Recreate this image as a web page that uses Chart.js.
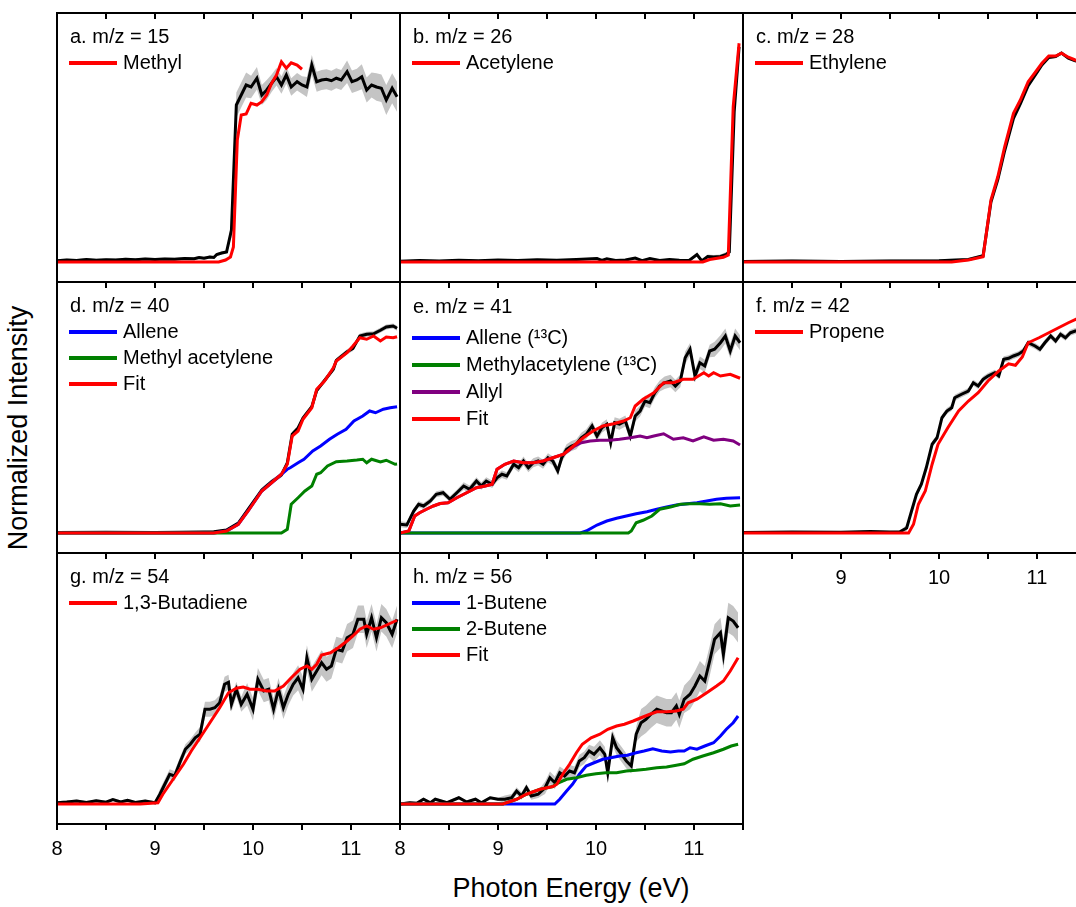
<!DOCTYPE html>
<html>
<head>
<meta charset="utf-8">
<script src="https://cdn.jsdelivr.net/npm/chart.js@4.4.1/dist/chart.umd.min.js"></script>
<style>
html, body { margin: 0; padding: 0; background: #fff; overflow: hidden; }
#fig { position: relative; width: 1076px; height: 907px; overflow: hidden; font-family: "Liberation Sans", Arial, sans-serif; }
#fig canvas { position: absolute; }
.axis-title { position: absolute; font-size: 27px; color: #000; white-space: nowrap; }
#ytitle { left: 18px; top: 428px; transform: translate(-50%, -50%) rotate(-90deg); }
#xtitle { left: 571px; top: 888px; transform: translate(-50%, -50%); }
</style>
</head>
<body>
<div id="fig">
  <div class="axis-title" id="ytitle">Normalized Intensity</div>
  <div class="axis-title" id="xtitle">Photon Energy (eV)</div>
</div>
<script>
// a. m/z = 15
const aX = [8.0,8.1,8.2,8.3,8.4,8.5,8.6,8.7,8.8,8.9,9.0,9.1,9.2,9.3,9.4,9.45,9.5,9.56,9.6,9.63,9.68,9.73,9.78,9.83,9.88,9.93,9.98,10.04,10.09,10.14,10.19,10.24,10.29,10.34,10.39,10.45,10.5,10.55,10.6,10.65,10.7,10.75,10.8,10.85,10.9,10.96,11.01,11.06,11.11,11.16,11.21,11.26,11.31,11.36,11.42,11.47];
const aSignal = [0.005,0.008,0.006,0.01,0.007,0.009,0.008,0.011,0.009,0.012,0.01,0.012,0.011,0.014,0.013,0.018,0.015,0.02,0.018,0.03,0.036,0.04,0.128,0.628,0.668,0.708,0.70,0.735,0.668,0.688,0.715,0.741,0.708,0.748,0.70,0.721,0.708,0.70,0.788,0.721,0.728,0.731,0.725,0.735,0.728,0.761,0.721,0.728,0.741,0.688,0.708,0.70,0.695,0.648,0.695,0.661];
const aErr = [0.006,0.006,0.006,0.006,0.006,0.006,0.006,0.006,0.006,0.006,0.006,0.006,0.006,0.006,0.006,0.006,0.006,0.006,0.006,0.006,0.006,0.006,0.03,0.05,0.05,0.05,0.045,0.045,0.04,0.04,0.035,0.035,0.035,0.035,0.035,0.035,0.035,0.04,0.04,0.04,0.04,0.04,0.04,0.04,0.04,0.045,0.045,0.045,0.05,0.05,0.05,0.055,0.055,0.06,0.06,0.06];
const aFitX = [8.0,9.0,9.65,9.72,9.77,9.8,9.84,9.88,9.93,9.98,10.04,10.09,10.14,10.19,10.24,10.29,10.34,10.39,10.45,10.5];
const aMethyl = [0,0,0,0.008,0.02,0.06,0.488,0.588,0.592,0.635,0.628,0.641,0.668,0.715,0.748,0.801,0.775,0.797,0.788,0.771];

// b. m/z = 26
const bX = [8.0,8.2,8.4,8.6,8.8,9.0,9.2,9.4,9.6,9.8,10.01,10.06,10.11,10.2,10.3,10.4,10.47,10.55,10.65,10.75,10.85,10.95,11.03,11.08,11.14,11.2,11.27,11.33,11.36,11.41,11.46];
const bSignal = [0.003,0.006,0.004,0.007,0.005,0.008,0.006,0.009,0.007,0.01,0.014,0.006,0.013,0.006,0.008,0.016,0.005,0.014,0.006,0.01,0.007,0.006,0.03,0.004,0.022,0.02,0.022,0.03,0.04,0.6,0.86];
const bErr = [0.004,0.004,0.004,0.004,0.004,0.004,0.004,0.004,0.004,0.004,0.004,0.004,0.004,0.004,0.004,0.004,0.004,0.004,0.004,0.004,0.004,0.004,0.008,0.008,0.008,0.008,0.008,0.01,0.012,0.02,0.02];
const bFitX = [8.0,11.09,11.16,11.3,11.35,11.4,11.46];
const bAcetylene = [0,0,0.01,0.019,0.028,0.621,0.875];

// c. m/z = 28
const cX = [8.0,8.5,9.0,9.5,10.0,10.3,10.45,10.53,10.6,10.67,10.76,10.83,10.91,11.0,11.05,11.12,11.19,11.25,11.32,11.39,11.47];
const cSignal = [0.002,0.004,0.002,0.004,0.005,0.01,0.025,0.24,0.33,0.445,0.575,0.632,0.705,0.758,0.788,0.818,0.822,0.836,0.815,0.805,0.80];
const cErr = [0.006,0.006,0.006,0.006,0.006,0.006,0.006,0.006,0.006,0.006,0.006,0.006,0.006,0.006,0.006,0.006,0.006,0.006,0.006,0.006,0.006];
const cFitX = [8.0,9.5,10.13,10.3,10.45,10.53,10.6,10.67,10.76,10.83,10.91,11.0,11.05,11.12,11.19,11.25,11.32,11.39,11.47];
const cEthylene = [0,0,0,0.008,0.021,0.248,0.341,0.461,0.595,0.648,0.721,0.768,0.795,0.824,0.824,0.835,0.819,0.808,0.80];

// d. m/z = 40
const dX = [8.0,8.5,9.0,9.5,9.6,9.73,9.85,9.95,10.09,10.19,10.29,10.35,10.4,10.46,10.51,10.6,10.65,10.73,10.82,10.85,10.96,11.02,11.09,11.16,11.23,11.3,11.36,11.43,11.47];
const dSignal = [0.002,0.003,0.002,0.004,0.005,0.012,0.04,0.095,0.172,0.205,0.232,0.28,0.395,0.42,0.46,0.505,0.57,0.61,0.655,0.69,0.725,0.738,0.788,0.795,0.797,0.811,0.824,0.828,0.819];
const dErr = [0.005,0.005,0.005,0.005,0.005,0.005,0.005,0.01,0.01,0.01,0.01,0.01,0.01,0.01,0.01,0.01,0.01,0.01,0.01,0.01,0.01,0.01,0.01,0.01,0.01,0.01,0.01,0.01,0.01];
const dFitX = [8.0,9.6,9.73,9.85,9.95,10.09,10.19,10.29,10.35,10.4,10.46,10.51,10.6,10.65,10.73,10.82,10.85,10.96,11.02,11.09,11.16,11.23,11.3,11.36,11.43,11.47];
const dFit = [0,0,0.008,0.035,0.088,0.168,0.201,0.235,0.275,0.388,0.408,0.455,0.501,0.575,0.608,0.661,0.688,0.721,0.748,0.781,0.775,0.788,0.768,0.784,0.781,0.785];
const dAlleneX = [8.0,9.6,9.73,9.85,9.95,10.09,10.19,10.29,10.35,10.38,10.46,10.52,10.61,10.69,10.78,10.86,10.95,11.03,11.12,11.19,11.25,11.33,11.4,11.47];
const dAllene = [0,0,0.008,0.035,0.088,0.168,0.201,0.235,0.255,0.261,0.281,0.295,0.328,0.348,0.375,0.395,0.415,0.448,0.468,0.488,0.481,0.495,0.501,0.505];
const dMethylAcX = [8.0,10.29,10.35,10.39,10.46,10.53,10.6,10.65,10.69,10.76,10.85,10.96,11.06,11.12,11.16,11.21,11.3,11.36,11.45,11.47];
const dMethylAc = [0,0,0.015,0.115,0.141,0.168,0.188,0.235,0.241,0.268,0.285,0.288,0.292,0.295,0.281,0.295,0.284,0.291,0.275,0.276];

// e. m/z = 41
const eX = [8.0,8.07,8.14,8.19,8.24,8.31,8.37,8.44,8.51,8.58,8.65,8.71,8.78,8.83,8.88,8.94,8.99,9.04,9.09,9.16,9.21,9.26,9.31,9.36,9.41,9.46,9.51,9.56,9.61,9.65,9.7,9.75,9.8,9.85,9.9,9.96,10.01,10.06,10.11,10.15,10.19,10.24,10.3,10.35,10.4,10.45,10.5,10.55,10.6,10.65,10.7,10.76,10.81,10.86,10.91,10.96,11.01,11.06,11.11,11.16,11.21,11.27,11.32,11.37,11.42,11.47];
const eSignal = [0.035,0.032,0.088,0.115,0.108,0.128,0.155,0.161,0.135,0.161,0.188,0.175,0.208,0.188,0.208,0.195,0.221,0.235,0.228,0.275,0.261,0.288,0.261,0.281,0.288,0.275,0.301,0.288,0.248,0.301,0.335,0.348,0.355,0.381,0.395,0.428,0.388,0.421,0.435,0.361,0.441,0.435,0.448,0.388,0.468,0.488,0.528,0.521,0.561,0.588,0.601,0.608,0.588,0.608,0.701,0.735,0.628,0.681,0.668,0.728,0.735,0.761,0.788,0.728,0.788,0.761];
const eErr = [0.012,0.012,0.012,0.012,0.012,0.012,0.012,0.012,0.012,0.012,0.015,0.015,0.015,0.015,0.015,0.015,0.015,0.015,0.015,0.015,0.018,0.018,0.018,0.018,0.018,0.018,0.018,0.018,0.018,0.018,0.02,0.02,0.02,0.02,0.02,0.02,0.02,0.02,0.02,0.02,0.022,0.022,0.022,0.022,0.022,0.022,0.022,0.022,0.022,0.022,0.025,0.025,0.025,0.025,0.025,0.025,0.025,0.025,0.025,0.025,0.03,0.03,0.03,0.03,0.03,0.03];
const eFitX = [8.0,8.09,8.15,8.2,8.27,8.34,8.41,8.49,8.58,8.68,8.78,8.87,8.94,8.99,9.07,9.16,9.26,9.36,9.46,9.56,9.67,9.77,9.87,9.97,10.07,10.18,10.28,10.35,10.4,10.48,10.59,10.69,10.79,10.89,10.99,11.1,11.15,11.2,11.27,11.37,11.47];
const eFit = [0,0.008,0.068,0.081,0.095,0.108,0.118,0.121,0.141,0.161,0.181,0.188,0.195,0.255,0.275,0.288,0.281,0.281,0.288,0.301,0.315,0.348,0.381,0.408,0.428,0.437,0.448,0.461,0.508,0.535,0.561,0.601,0.601,0.615,0.615,0.641,0.628,0.641,0.628,0.635,0.619];
const eAllylX = [8.0,8.09,8.15,8.2,8.27,8.34,8.41,8.49,8.58,8.68,8.78,8.87,8.94,8.99,9.07,9.16,9.26,9.36,9.46,9.56,9.67,9.77,9.85,9.94,10.04,10.14,10.24,10.35,10.45,10.52,10.59,10.69,10.79,10.89,10.99,11.1,11.2,11.3,11.4,11.47];
const eAllyl = [0,0.008,0.068,0.081,0.095,0.108,0.118,0.121,0.141,0.161,0.181,0.188,0.195,0.255,0.275,0.288,0.281,0.281,0.288,0.301,0.315,0.345,0.361,0.368,0.371,0.371,0.375,0.381,0.388,0.381,0.388,0.397,0.375,0.381,0.368,0.385,0.371,0.375,0.368,0.352];
const eAlleneX = [8.0,9.84,9.9,10.01,10.11,10.21,10.31,10.41,10.52,10.62,10.72,10.82,10.93,11.03,11.13,11.23,11.33,11.47];
const eAllene = [0,0,0.008,0.032,0.048,0.059,0.068,0.077,0.085,0.095,0.104,0.112,0.117,0.121,0.128,0.135,0.139,0.141];
const eMethylAcX = [8.0,10.33,10.36,10.41,10.48,10.57,10.65,10.76,10.86,10.96,11.06,11.16,11.27,11.37,11.47];
const eMethylAc = [0,0,0.008,0.041,0.051,0.068,0.095,0.104,0.115,0.117,0.117,0.115,0.117,0.108,0.112];

// f. m/z = 42
const fX = [8.0,8.5,9.0,9.3,9.5,9.6,9.67,9.72,9.77,9.82,9.87,9.93,9.98,10.03,10.08,10.13,10.16,10.23,10.3,10.35,10.4,10.45,10.5,10.57,10.61,10.66,10.71,10.76,10.81,10.86,10.91,10.98,11.03,11.08,11.14,11.19,11.24,11.29,11.34,11.39,11.45];
const fSignal = [0.002,0.004,0.003,0.006,0.004,0.005,0.02,0.088,0.155,0.195,0.261,0.355,0.381,0.461,0.488,0.501,0.541,0.555,0.568,0.601,0.588,0.615,0.628,0.641,0.628,0.695,0.699,0.708,0.715,0.728,0.761,0.748,0.735,0.761,0.788,0.768,0.795,0.781,0.801,0.808,0.81];
const fErr = [0.004,0.004,0.004,0.004,0.004,0.004,0.012,0.012,0.012,0.012,0.012,0.012,0.012,0.012,0.012,0.012,0.012,0.012,0.012,0.012,0.012,0.012,0.012,0.012,0.012,0.012,0.012,0.012,0.012,0.012,0.012,0.012,0.012,0.012,0.012,0.012,0.012,0.012,0.012,0.012,0.012];
const fFitX = [8.0,9.69,9.74,9.79,9.86,9.93,9.99,10.09,10.2,10.3,10.4,10.5,10.61,10.71,10.78,10.85,10.91,11.02,11.12,11.22,11.32,11.4,11.47];
const fPropene = [0,0,0.035,0.115,0.168,0.275,0.355,0.421,0.488,0.528,0.561,0.608,0.648,0.677,0.671,0.704,0.761,0.781,0.801,0.821,0.841,0.855,0.866];

// g. m/z = 54
const gX = [8.0,8.1,8.2,8.3,8.4,8.5,8.57,8.65,8.72,8.8,8.9,9.0,9.05,9.1,9.15,9.2,9.26,9.31,9.36,9.41,9.46,9.51,9.56,9.61,9.66,9.71,9.75,9.78,9.83,9.88,9.94,10.0,10.05,10.11,10.16,10.21,10.26,10.31,10.36,10.41,10.46,10.51,10.55,10.6,10.65,10.7,10.75,10.8,10.85,10.91,10.96,11.02,11.07,11.13,11.16,11.21,11.26,11.31,11.36,11.42,11.47];
const gSignal = [0.005,0.008,0.012,0.006,0.013,0.007,0.018,0.008,0.015,0.006,0.012,0.005,0.039,0.079,0.119,0.112,0.172,0.219,0.239,0.265,0.279,0.379,0.379,0.385,0.405,0.479,0.487,0.399,0.459,0.399,0.439,0.379,0.499,0.452,0.459,0.379,0.459,0.385,0.439,0.479,0.505,0.459,0.585,0.499,0.532,0.565,0.539,0.552,0.619,0.612,0.665,0.679,0.739,0.739,0.679,0.745,0.665,0.745,0.725,0.679,0.739];
const gErr = [0.006,0.006,0.006,0.006,0.006,0.006,0.006,0.006,0.006,0.006,0.006,0.006,0.02,0.02,0.02,0.02,0.02,0.02,0.02,0.02,0.03,0.03,0.03,0.03,0.03,0.03,0.03,0.03,0.03,0.03,0.045,0.045,0.045,0.045,0.045,0.045,0.045,0.045,0.045,0.045,0.05,0.05,0.05,0.05,0.05,0.05,0.05,0.05,0.05,0.05,0.055,0.055,0.055,0.055,0.055,0.055,0.055,0.055,0.055,0.055,0.055];
const gFitX = [8.0,8.85,9.03,9.08,9.15,9.22,9.29,9.37,9.46,9.56,9.66,9.75,9.83,9.9,9.97,10.05,10.14,10.22,10.31,10.39,10.48,10.55,10.6,10.65,10.7,10.79,10.87,10.96,11.02,11.09,11.16,11.23,11.3,11.38,11.47];
const gButadiene = [0,0,0.005,0.039,0.079,0.119,0.159,0.212,0.265,0.325,0.385,0.445,0.463,0.468,0.459,0.459,0.452,0.452,0.472,0.505,0.539,0.552,0.539,0.559,0.596,0.605,0.625,0.652,0.672,0.699,0.712,0.699,0.705,0.719,0.735];

// h. m/z = 56
const hX = [8.0,8.1,8.17,8.24,8.31,8.36,8.48,8.6,8.68,8.77,8.83,8.92,9.0,9.07,9.14,9.19,9.24,9.29,9.34,9.41,9.48,9.53,9.58,9.63,9.68,9.73,9.78,9.83,9.88,9.93,9.98,10.04,10.09,10.12,10.17,10.21,10.26,10.31,10.36,10.41,10.46,10.51,10.56,10.62,10.67,10.72,10.77,10.82,10.85,10.9,10.96,11.01,11.06,11.11,11.16,11.21,11.27,11.3,11.35,11.4,11.45];
const hSignal = [0,0.005,0.003,0.019,0.005,0.019,0.005,0.025,0.008,0.019,0.005,0.025,0.019,0.019,0.025,0.052,0.032,0.065,0.032,0.039,0.065,0.105,0.085,0.125,0.112,0.132,0.125,0.172,0.185,0.212,0.199,0.225,0.199,0.125,0.265,0.225,0.199,0.172,0.152,0.279,0.325,0.339,0.359,0.379,0.372,0.365,0.365,0.392,0.359,0.419,0.439,0.472,0.512,0.492,0.572,0.659,0.685,0.599,0.745,0.732,0.705];
const hErr = [0.006,0.006,0.006,0.006,0.006,0.006,0.006,0.006,0.006,0.006,0.006,0.006,0.006,0.015,0.015,0.015,0.015,0.015,0.015,0.015,0.025,0.025,0.025,0.025,0.025,0.025,0.025,0.025,0.025,0.025,0.03,0.03,0.03,0.03,0.03,0.03,0.03,0.03,0.03,0.03,0.055,0.055,0.055,0.055,0.055,0.055,0.055,0.055,0.055,0.055,0.06,0.06,0.06,0.06,0.06,0.06,0.06,0.06,0.06,0.06,0.06];
const hFitX = [8.0,9.05,9.19,9.29,9.43,9.56,9.6,9.67,9.73,9.8,9.86,9.95,10.04,10.12,10.21,10.29,10.38,10.46,10.55,10.62,10.72,10.82,10.89,10.94,11.03,11.13,11.23,11.3,11.37,11.45];
const hFit = [0,0,0.019,0.039,0.059,0.07,0.079,0.125,0.159,0.205,0.239,0.265,0.279,0.299,0.312,0.319,0.332,0.345,0.359,0.369,0.369,0.372,0.379,0.405,0.419,0.445,0.472,0.492,0.532,0.585];
const hButene1X = [8.0,9.58,9.63,9.7,9.76,9.83,9.9,9.98,10.07,10.15,10.24,10.32,10.41,10.49,10.58,10.67,10.76,10.84,10.9,10.96,11.03,11.11,11.2,11.27,11.33,11.4,11.45];
const hButene1 = [0,0,0.019,0.052,0.079,0.119,0.152,0.165,0.179,0.185,0.192,0.195,0.205,0.212,0.221,0.212,0.208,0.212,0.212,0.225,0.219,0.232,0.245,0.272,0.299,0.325,0.352];
const hButene2X = [8.0,9.05,9.19,9.29,9.43,9.56,9.6,9.7,9.8,9.9,10.0,10.1,10.21,10.31,10.41,10.51,10.62,10.72,10.82,10.9,10.99,11.09,11.2,11.3,11.38,11.45];
const hButene2 = [0,0,0.019,0.039,0.059,0.07,0.082,0.099,0.105,0.115,0.121,0.125,0.125,0.132,0.135,0.139,0.145,0.148,0.155,0.161,0.179,0.192,0.205,0.219,0.232,0.239];

const RED = '#ff0000', BLUE = '#0000ff', GREEN = '#008000', PURPLE = '#800080';
const FONT_FAMILY = '"Liberation Sans", Arial, sans-serif';

// grid of panels: column lefts, row tops/heights (pixels)
const colLeft = [57, 400, 743];
const rowTop = [13, 282, 553];
const rowH = [269, 271, 271];
const PANEL_W = 343;
const PAD = 14;
const AXIS_H = 45;

const panels = [
  { col: 0, row: 0, title: 'a. m/z = 15', x: aX, y: aSignal, err: aErr,
    lines: [{ label: 'Methyl', x: aFitX, y: aMethyl, color: RED }],
    legend: ['Methyl'], tickLabels: [] },
  { col: 1, row: 0, title: 'b. m/z = 26', x: bX, y: bSignal, err: bErr,
    lines: [{ label: 'Acetylene', x: bFitX, y: bAcetylene, color: RED }],
    legend: ['Acetylene'], tickLabels: [] },
  { col: 2, row: 0, title: 'c. m/z = 28', x: cX, y: cSignal, err: cErr,
    lines: [{ label: 'Ethylene', x: cFitX, y: cEthylene, color: RED }],
    legend: ['Ethylene'], tickLabels: [] },
  { col: 0, row: 1, title: 'd. m/z = 40', x: dX, y: dSignal, err: dErr,
    lines: [
      { label: 'Fit', x: dFitX, y: dFit, color: RED },
      { label: 'Methyl acetylene', x: dMethylAcX, y: dMethylAc, color: GREEN },
      { label: 'Allene', x: dAlleneX, y: dAllene, color: BLUE }
    ],
    legend: ['Allene', 'Methyl acetylene', 'Fit'], tickLabels: [] },
  { col: 1, row: 1, title: 'e. m/z = 41', x: eX, y: eSignal, err: eErr,
    lines: [
      { label: 'Fit', x: eFitX, y: eFit, color: RED },
      { label: 'Methylacetylene (¹³C)', x: eMethylAcX, y: eMethylAc, color: GREEN },
      { label: 'Allene (¹³C)', x: eAlleneX, y: eAllene, color: BLUE },
      { label: 'Allyl', x: eAllylX, y: eAllyl, color: PURPLE }
    ],
    legend: ['Allene (¹³C)', 'Methylacetylene (¹³C)', 'Allyl', 'Fit'], tickLabels: [],
    titleY: 25, first: 56, gap: 27 },
  { col: 2, row: 1, title: 'f. m/z = 42', x: fX, y: fSignal, err: fErr,
    lines: [{ label: 'Propene', x: fFitX, y: fPropene, color: RED }],
    legend: ['Propene'], tickLabels: [9, 10, 11] },
  { col: 0, row: 2, title: 'g. m/z = 54', x: gX, y: gSignal, err: gErr,
    lines: [{ label: '1,3-Butadiene', x: gFitX, y: gButadiene, color: RED }],
    legend: ['1,3-Butadiene'], tickLabels: [8, 9, 10, 11] },
  { col: 1, row: 2, title: 'h. m/z = 56', x: hX, y: hSignal, err: hErr,
    lines: [
      { label: 'Fit', x: hFitX, y: hFit, color: RED },
      { label: '2-Butene', x: hButene2X, y: hButene2, color: GREEN },
      { label: '1-Butene', x: hButene1X, y: hButene1, color: BLUE }
    ],
    legend: ['1-Butene', '2-Butene', 'Fit'], tickLabels: [8, 9, 10, 11] }
];

function pts(xs, ys, err, sign) {
  return xs.map((x, i) => ({ x: x, y: ys[i] + (err ? sign * err[i] : 0) }));
}

// frame, inner top ticks, panel title and legend
function makeFrame(p) {
  return {
    id: 'frame',
    afterDraw(chart) {
      const ctx = chart.ctx;
      const a = chart.chartArea;
      const xs = chart.scales.x;
      ctx.save();
      ctx.strokeStyle = '#000';
      ctx.lineWidth = 2;
      ctx.strokeRect(a.left, a.top, a.right - a.left, a.bottom - a.top);
      ctx.beginPath();
      xs.ticks.forEach(t => {
        const px = xs.getPixelForValue(t.value);
        ctx.moveTo(px, a.top);
        ctx.lineTo(px, a.top + 6);
      });
      ctx.stroke();

      ctx.fillStyle = '#000';
      ctx.font = '20px ' + FONT_FAMILY;
      ctx.textBaseline = 'middle';
      ctx.fillText(p.title, a.left + 13, a.top + (p.titleY || 24));
      p.legend.forEach((name, i) => {
        const ds = chart.data.datasets.find(d => d.label === name);
        const y = a.top + (p.first || 50) + i * (p.gap || 26);
        ctx.beginPath();
        ctx.strokeStyle = ds.borderColor;
        ctx.lineWidth = 4;
        ctx.moveTo(a.left + 12, y);
        ctx.lineTo(a.left + 60, y);
        ctx.stroke();
        ctx.fillText(name, a.left + 66, y);
      });
      ctx.restore();
    }
  };
}

const fig = document.getElementById('fig');

panels.forEach(p => {
  const h = rowH[p.row];
  const canvas = document.createElement('canvas');
  canvas.width = PANEL_W + 2 * PAD;
  canvas.height = PAD + h + AXIS_H;
  canvas.style.left = (colLeft[p.col] - PAD) + 'px';
  canvas.style.top = (rowTop[p.row] - PAD) + 'px';
  fig.appendChild(canvas);

  const datasets = p.lines.map(l => ({
    label: l.label, data: pts(l.x, l.y), borderColor: l.color, borderWidth: 3, fill: false
  }));
  datasets.push({ label: 'Data', data: pts(p.x, p.y), borderColor: '#000', borderWidth: 3, fill: false });
  datasets.push({ label: 'upper', data: pts(p.x, p.y, p.err, 1), borderWidth: 0, borderColor: 'rgba(0,0,0,0)',
    backgroundColor: '#c4c4c4', fill: '+1' });
  datasets.push({ label: 'lower', data: pts(p.x, p.y, p.err, -1), borderWidth: 0, borderColor: 'rgba(0,0,0,0)', fill: false });

  new Chart(canvas, {
    type: 'line',
    data: { datasets: datasets },
    options: {
      responsive: false,
      animation: false,
      devicePixelRatio: 1,
      layout: { padding: { left: PAD, right: PAD, top: PAD, bottom: 0 } },
      elements: { point: { radius: 0 }, line: { tension: 0 } },
      plugins: { legend: { display: false }, tooltip: { enabled: false } },
      scales: {
        x: {
          type: 'linear', min: 8, max: 11.5,
          ticks: {
            stepSize: 0.5, autoSkip: false, maxRotation: 0, padding: 7,
            color: '#000', font: { family: FONT_FAMILY, size: 20 },
            callback: v => p.tickLabels.includes(v) ? String(v) : ''
          },
          grid: { drawOnChartArea: false, drawTicks: true, tickLength: 6, color: '#000', lineWidth: 2 },
          border: { display: false },
          afterFit: s => { s.height = AXIS_H; }
        },
        y: { display: false, min: -0.08, max: (h - 20) / 250 }
      }
    },
    plugins: [makeFrame(p)]
  });
});
</script>
</body>
</html>
